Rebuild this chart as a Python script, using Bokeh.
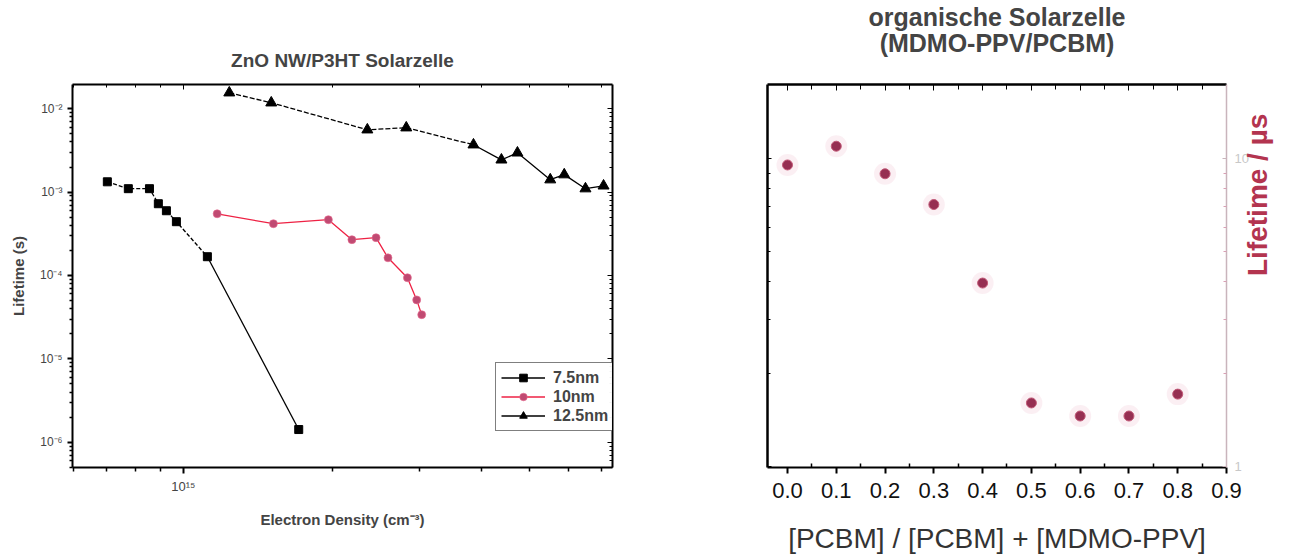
import math
from bokeh.plotting import figure
from bokeh.layouts import row
from bokeh.models import (FixedTicker, LinearAxis, LogAxis, Legend, LegendItem, Range1d, Title)
from bokeh.embed import file_html
from bokeh.resources import INLINE

# ---------------- data: left chart (ZnO NW/P3HT) ----------------
sq_x = [7.02e14, 7.74e14, 8.54e14, 8.90e14, 9.24e14, 9.68e14, 1.118e15, 1.71e15]
sq_y = [1.33e-3, 1.10e-3, 1.10e-3, 7.26e-4, 5.98e-4, 4.42e-4, 1.68e-4, 1.42e-6]

rd_x = [1.17e15, 1.52e15, 1.963e15, 2.19e15, 2.45e15, 2.59e15, 2.835e15, 2.96e15, 3.03e15]
rd_y = [5.5e-4, 4.18e-4, 4.67e-4, 2.69e-4, 2.84e-4, 1.63e-4, 9.4e-5, 5.1e-5, 3.39e-5]

tr_x = [1.238e15, 1.505e15, 2.353e15, 2.82e15, 3.855e15, 4.39e15, 4.73e15, 5.51e15, 5.88e15, 6.49e15, 7.06e15]
tr_y = [1.556e-2, 1.18e-2, 5.6e-3, 5.92e-3, 3.70e-3, 2.44e-3, 2.96e-3, 1.41e-3, 1.62e-3, 1.10e-3, 1.19e-3]

series_labels = ["7.5nm", "10nm", "12.5nm"]
left_y_ticks = [1e-6, 1e-5, 1e-4, 1e-3, 1e-2]
left_y_labels = ["10\u207b\u2076", "10\u207b\u2075", "10\u207b\u2074", "10\u207b\u00b3", "10\u207b\u00b2"]
left_x_ticks = [1e15]
left_x_labels = ["10\u00b9\u2075"]

# ---------------- data: right chart (MDMO-PPV/PCBM) ----------------
ratio = [0.0, 0.1, 0.2, 0.3, 0.4, 0.5, 0.6, 0.7, 0.8]
lifetime_us = [9.56, 11.0, 8.95, 7.11, 3.95, 1.61, 1.46, 1.46, 1.72]
right_x_ticks = [0.0, 0.1, 0.2, 0.3, 0.4, 0.5, 0.6, 0.7, 0.8, 0.9]
right_x_labels = ["0.0", "0.1", "0.2", "0.3", "0.4", "0.5", "0.6", "0.7", "0.8", "0.9"]
right_y_ticks = [1, 10]
right_y_labels = ["1", "10"]

FONT = "Liberation Sans"


def minor_log(lo, hi):
    out = []
    for d in range(lo, hi + 1):
        for m in range(2, 10):
            out.append(m * 10.0 ** d)
    return out


def hide_labels(ax):
    ax.major_label_text_alpha = 0
    ax.major_label_text_font_size = "6px"
    ax.major_label_standoff = 0


# ================= left figure =================
p1 = figure(width=646, height=559, x_axis_type="log", y_axis_type="log",
            x_range=Range1d(5.97e14, 7.36e15), y_range=Range1d(10 ** -6.303, 10 ** -1.709),
            output_backend="svg", toolbar_location=None,
            min_border_left=72, min_border_right=34, min_border_top=84, min_border_bottom=92)
p1.title = None
p1.grid.visible = False
p1.outline_line_color = None

xt = FixedTicker(ticks=left_x_ticks, minor_ticks=minor_log(14, 15))
yt = FixedTicker(ticks=left_y_ticks, minor_ticks=minor_log(-7, -2))

for ax in p1.xaxis:
    ax.ticker = xt
    ax.major_label_overrides = dict(zip(left_x_ticks, left_x_labels))
    ax.axis_label = "Electron Density (cm\u207b\u00b3)"
    ax.axis_label_text_font = FONT
    ax.axis_label_text_font_size = "15px"
    ax.axis_label_text_font_style = "bold"
    ax.axis_label_standoff = 14
    ax.major_label_text_font = FONT
    ax.major_label_text_font_size = "13px"
    ax.axis_line_width = 2
    ax.major_tick_out = 6
    ax.major_tick_in = 0
    ax.minor_tick_out = 4
    ax.minor_tick_in = 0
    ax.major_tick_line_width = 2
    ax.minor_tick_line_width = 1.5
for ax in p1.yaxis:
    ax.ticker = yt
    ax.major_label_overrides = dict(zip(left_y_ticks, left_y_labels))
    ax.axis_label = "Lifetime (s)"
    ax.axis_label_text_font = FONT
    ax.axis_label_text_font_size = "15px"
    ax.axis_label_text_font_style = "bold"
    ax.axis_label_standoff = 10
    ax.major_label_text_font = FONT
    ax.major_label_text_font_size = "12px"
    ax.axis_line_width = 2
    ax.major_tick_out = 5
    ax.major_tick_in = 0
    ax.minor_tick_out = 3
    ax.minor_tick_in = 0
    ax.major_tick_line_width = 2
    ax.minor_tick_line_width = 1.5

top1 = LogAxis(ticker=xt, axis_line_width=2,
               major_tick_in=5, major_tick_out=0, minor_tick_in=3, minor_tick_out=0,
               axis_label="ZnO NW/P3HT Solarzelle", axis_label_text_font=FONT,
               axis_label_text_font_size="19px", axis_label_text_font_style="bold",
               axis_label_standoff=14)
hide_labels(top1)
right1 = LogAxis(ticker=yt, axis_line_width=2,
                 major_tick_in=5, major_tick_out=0, minor_tick_in=3, minor_tick_out=0)
hide_labels(right1)
p1.add_layout(top1, "above")
p1.add_layout(right1, "right")

# 7.5 nm
l_sq_a = p1.line(sq_x[:7], sq_y[:7], line_color="black", line_width=1.3, line_dash="4 2")
l_sq_b = p1.line(sq_x[6:], sq_y[6:], line_color="black", line_width=1.3)
m_sq = p1.scatter(sq_x, sq_y, marker="square", size=8, fill_color="black", line_color="black")
# 10 nm
l_rd = p1.line(rd_x, rd_y, line_color="#ee2244", line_width=1.3)
m_rd = p1.scatter(rd_x, rd_y, marker="circle", size=8, fill_color="#c04a72",
                  line_color="#e86a90", line_alpha=0.6)
# 12.5 nm
l_tr_a = p1.line(tr_x[:5], tr_y[:5], line_color="black", line_width=1.3, line_dash="5 2")
l_tr_b = p1.line(tr_x[4:], tr_y[4:], line_color="black", line_width=1.3)
m_tr = p1.scatter(tr_x, tr_y, marker="triangle", size=11, fill_color="black", line_color="black")

legend = Legend(items=[LegendItem(label=series_labels[0], renderers=[l_sq_b, m_sq]),
                       LegendItem(label=series_labels[1], renderers=[l_rd, m_rd]),
                       LegendItem(label=series_labels[2], renderers=[l_tr_b, m_tr])],
                location=(423, 36), border_line_color="black", border_line_width=1.5,
                label_text_font=FONT, label_text_font_size="16px", label_text_font_style="bold",
                padding=5, spacing=0, label_height=19, glyph_height=19, glyph_width=44,
                margin=0, label_standoff=8)
p1.add_layout(legend, "center")

# ================= right figure =================
p2 = figure(width=646, height=559, y_axis_type="log",
            x_range=Range1d(-0.041, 0.9), y_range=Range1d(0.993, 17.46),
            output_backend="svg", toolbar_location=None,
            min_border_left=121, min_border_right=66, min_border_top=82, min_border_bottom=91)
p2.title = None
p2.grid.visible = False
p2.outline_line_color = None

rxt = FixedTicker(ticks=right_x_ticks, minor_ticks=[t + 0.05 for t in right_x_ticks[:-1]] + [-0.05])
ryt = FixedTicker(ticks=right_y_ticks, minor_ticks=minor_log(0, 1))

p2.yaxis.visible = False
for ax in p2.xaxis:
    ax.ticker = rxt
    ax.major_label_overrides = dict(zip(right_x_ticks, right_x_labels))
    ax.axis_label = "[PCBM] / [PCBM] + [MDMO-PPV]"
    ax.axis_label_text_font = FONT
    ax.axis_label_text_font_size = "28px"
    ax.axis_label_text_font_style = "normal"
    ax.axis_label_text_color = "#333333"
    ax.axis_label_standoff = 22
    ax.major_label_text_font = FONT
    ax.major_label_text_font_size = "22px"
    ax.major_label_text_color = "#111111"
    ax.major_label_standoff = 9
    ax.axis_line_width = 2
    ax.major_tick_out = 6
    ax.major_tick_in = 0
    ax.minor_tick_out = 0
    ax.minor_tick_in = 4
    ax.major_tick_line_width = 2
    ax.minor_tick_line_width = 1.5

left2 = LogAxis(ticker=ryt, axis_line_width=2.5,
                major_tick_in=4, major_tick_out=0, minor_tick_in=3, minor_tick_out=0)
hide_labels(left2)
p2.add_layout(left2, "left")
top2 = LinearAxis(ticker=rxt, axis_line_width=2.5,
                  major_tick_in=6, major_tick_out=0, minor_tick_in=5, minor_tick_out=0,
                  axis_label="(MDMO-PPV/PCBM)", axis_label_text_font=FONT,
                  axis_label_text_font_size="25px", axis_label_text_font_style="bold",
                  axis_label_standoff=28)
hide_labels(top2)
p2.add_layout(top2, "above")
p2.add_layout(Title(text="organische Solarzelle", align="center", text_font=FONT,
                    text_font_size="25px", text_font_style="bold", standoff=-10), "above")

right2 = LogAxis(ticker=ryt, axis_line_color="#c9b4bc", axis_line_width=1.5,
                 major_tick_line_color="#c9b4bc", minor_tick_line_color="#d8a0b4",
                 major_tick_in=4, major_tick_out=0, minor_tick_in=3, minor_tick_out=0,
                 major_label_text_color="#c8c8c8", major_label_text_font=FONT,
                 major_label_text_font_size="13px", major_label_standoff=8,
                 axis_label="Lifetime / \u00b5s", axis_label_text_font=FONT,
                 axis_label_text_font_size="28px", axis_label_text_font_style="bold",
                 axis_label_text_color="#b3344f", axis_label_standoff=6,
                 axis_label_orientation=math.pi / 2)
right2.major_label_overrides = dict(zip(right_y_ticks, right_y_labels))
p2.add_layout(right2, "right")

p2.scatter(ratio, lifetime_us, marker="circle", size=22, fill_color="#f4d2dc",
           fill_alpha=0.35, line_color=None)
p2.scatter(ratio, lifetime_us, marker="circle", size=10, fill_color="#962f52",
           line_color="#c25a78", line_width=1)

layout = row(p1, p2)
open("out.html", "w").write(file_html(layout, INLINE))
